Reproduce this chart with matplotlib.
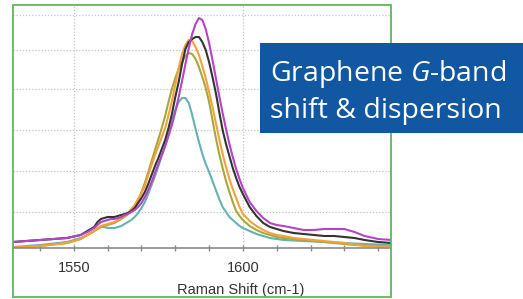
import numpy as np
import matplotlib.pyplot as plt
from matplotlib.patches import Rectangle
from matplotlib.ticker import MultipleLocator

plt.rcParams['mathtext.fontset'] = 'custom'
plt.rcParams['mathtext.rm'] = 'Open Sans'
plt.rcParams['mathtext.it'] = 'Open Sans:italic'

# Raman shift (cm-1) and intensities (arbitrary units)
shift = [1532, 1540, 1548, 1552, 1554, 1556, 1557, 1558, 1559, 1560, 1561, 1562, 1563, 1564,
         1565, 1566, 1567, 1568, 1569, 1570, 1571, 1572, 1573, 1574, 1575, 1576, 1577,
         1578, 1579, 1580, 1581, 1582, 1583, 1584, 1585, 1586, 1587, 1588, 1589, 1590,
         1591, 1592, 1593, 1594, 1595, 1596, 1597, 1598, 1599, 1600,
         1602, 1604, 1606, 1608, 1610, 1612, 1615, 1618, 1621, 1624, 1627, 1630, 1633,
         1636, 1640, 1644]

magenta = [6, 8, 10, 13, 16, 20, 23, 26, 27, 28, 29, 29, 30, 31,
           33, 34, 36, 38, 41, 45, 51, 58, 66, 75, 84, 93, 102,
           112, 123, 136, 151, 167, 184, 200, 214, 224, 230, 228, 219, 205,
           188, 170, 152, 135, 119, 104, 91, 79, 69, 60,
           46, 37, 30, 25, 23, 22, 20, 18, 18, 19, 19, 19, 16, 12, 9, 8]
black = [6, 8, 10, 13, 17, 21, 26, 29, 30, 31, 31, 31, 32, 33,
         34, 35, 37, 40, 45, 50, 56, 64, 73, 82, 90, 99, 108,
         120, 134, 151, 166, 184, 199, 206, 209, 211, 211, 206, 198, 186,
         171, 155, 136, 118, 104, 92, 80, 70, 61, 54,
         41, 32, 25, 21, 19, 17, 15, 14, 13, 12, 12, 11, 10, 8, 6, 5]
orange = [0.5, 2, 5, 9, 13, 17, 20, 22, 23, 24, 25, 26, 28, 30,
          32, 35, 39, 43, 49, 55, 62, 73, 83, 93, 102, 111, 120,
          133, 147, 163, 180, 194, 203, 208, 207, 201, 193, 182, 170, 156,
          141, 125, 109, 94, 81, 69, 59, 50, 41, 34,
          27, 22, 18, 15, 13, 12, 10, 9, 8, 7, 6, 5, 3.5, 2, 1.5, 1.5]
olive = [0, 2, 5, 9, 13, 17, 19, 21, 22, 23, 24, 25, 27, 29,
         31, 34, 38, 42, 48, 56, 65, 76, 87, 98, 109, 120, 132,
         146, 159, 170, 179, 186, 192, 195, 194, 189, 181, 171, 160, 146,
         128, 110, 94, 80, 67, 56, 46, 37, 32, 28,
         22, 18, 15, 13, 11, 10, 9, 8, 7, 6, 5, 4, 3, 2.5, 2, 2]
teal = [1, 3, 6, 10, 13, 17, 19, 21, 21, 20, 20, 20, 21, 22,
        24, 26, 28, 31, 35, 40, 46, 54, 63, 72, 82, 92, 102,
        114, 127, 138, 146, 150, 150, 145, 133, 119, 106, 94, 84, 76,
        67, 58, 49, 41, 36, 31, 28, 25, 22, 20,
        17, 14, 12, 10, 9, 8, 7.5, 7, 6.5, 6, 5.5, 5, 4.5, 4, 3.5, 3]

grid_y = [36, 77, 118, 159, 198, 233]

fig = plt.figure(figsize=(5.23, 2.99), dpi=100)
ax = fig.add_axes([13 / 523, 51 / 299, 378 / 523, 243 / 299])

lw = 1.5
ax.plot(shift, teal, color='#66b2b2', lw=lw)
ax.plot(shift, olive, color='#a8a83a', lw=lw)
ax.plot(shift, orange, color='#f6a03c', lw=lw)
ax.plot(shift, black, color='#333333', lw=lw)
ax.plot(shift, magenta, color='#b444c4', lw=lw)

ax.set_xlim(1532, 1643.8)
ax.set_ylim(0, 243)
ax.xaxis.set_major_locator(MultipleLocator(50))
ax.xaxis.set_minor_locator(MultipleLocator(10))
ax.set_yticks(grid_y)
ax.tick_params(axis='y', left=False, labelleft=False)
ax.tick_params(axis='x', which='major', direction='inout', length=5, width=1,
               color='#8a8a8a', labelsize=10.5, labelcolor='#333333', pad=7)
ax.tick_params(axis='x', which='minor', direction='inout', length=4, width=1,
               color='#8a8a8a')
for lab in ax.get_xticklabels():
    lab.set_family('Liberation Sans')
ax.grid(True, which='major', color='#c4c4c4', lw=0.9, linestyle=(0, (1, 1.5)))
ax.set_axisbelow(True)
for s in ['left', 'top', 'right']:
    ax.spines[s].set_visible(False)
ax.spines['bottom'].set_color('#8a8a8a')
ax.spines['bottom'].set_linewidth(1.2)

ax.set_xlabel('Raman Shift (cm-1)', fontsize=10.5, color='#333333',
              family='Liberation Sans')
ax.xaxis.set_label_coords((241 - 13) / 378, -0.145)

# green frame round the chart
fig.patches.append(Rectangle((13 / 523, 2 / 299), 378 / 523, 292 / 299,
                             transform=fig.transFigure, fill=False,
                             edgecolor='#5cb85c', lw=1.3))

# blue caption box
fig.patches.append(Rectangle((260 / 523, (299 - 133) / 299), 263 / 523, 90 / 299,
                             transform=fig.transFigure, facecolor='#1257a1',
                             edgecolor='none', zorder=5))
fig.text(270 / 523, (299 - 81) / 299, r'Graphene $\mathit{G}$-band',
         color='white', fontsize=20.5, family='Open Sans', va='baseline',
         zorder=6)
fig.text(270 / 523, (299 - 118) / 299, 'shift & dispersion',
         color='white', fontsize=20.5, family='Open Sans', va='baseline',
         zorder=6)

fig.savefig('out.png', dpi=100)
